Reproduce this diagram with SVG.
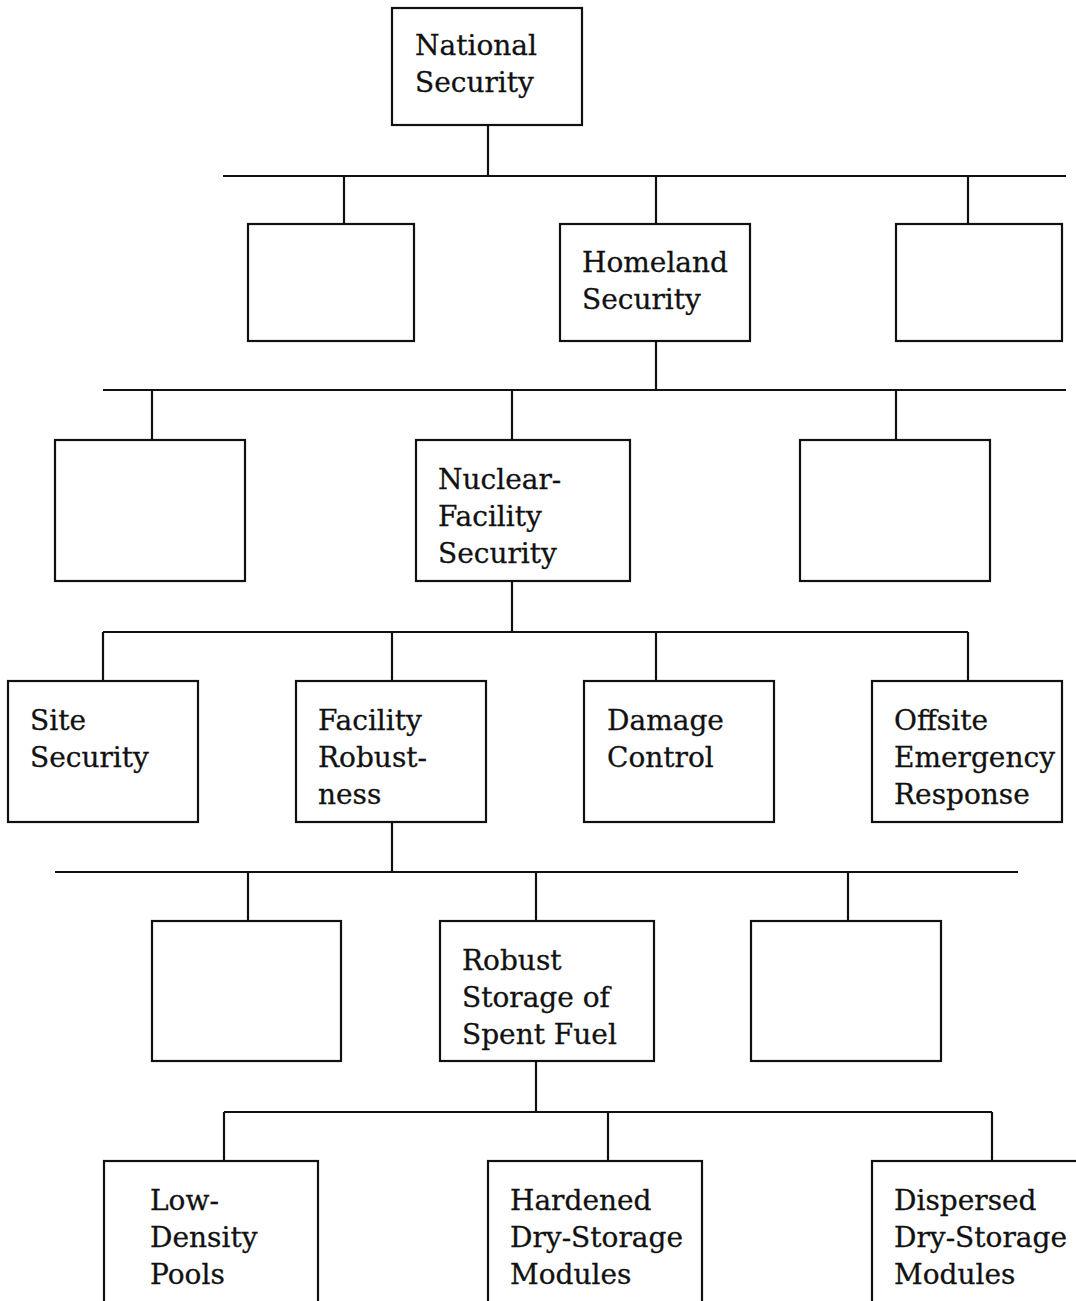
<svg xmlns="http://www.w3.org/2000/svg" width="1076" height="1301" viewBox="0 0 1076 1301">
<style>
.box{fill:#fff;stroke:#111;stroke-width:2.2}
.ln{fill:none;stroke:#111;stroke-width:2.2}
text{font-family:"DejaVu Serif","Liberation Serif",serif;font-size:28px;fill:#111;stroke:#111;stroke-width:0.3}
</style>
<rect width="1076" height="1301" fill="#fff"/>
<g id="connectors" class="ln">
<path d="M488 125V176M223 176H1066M344 176V224M656 176V224M968 176V224"/>
<path d="M656 341V390M103 390H1066M152 390V440M512 390V440M896 390V440"/>
<path d="M512 581V632M103 632H968M103 632V681M392 632V681M656 632V681M968 632V681"/>
<path d="M392 822V872M55 872H1018M248 872V921M536 872V921M848 872V921"/>
<path d="M536 1061V1112M224 1112H992M224 1112V1161M608 1112V1161M992 1112V1161"/>
</g>
<g id="national"><rect class="box" x="392" y="8" width="190" height="117"/><text x="415" y="55">National</text><text x="415" y="92">Security</text></g>
<g id="blank1"><rect class="box" x="248" y="224" width="166" height="117"/></g>
<g id="homeland"><rect class="box" x="560" y="224" width="190" height="117"/><text x="582" y="272">Homeland</text><text x="582" y="309">Security</text></g>
<g id="blank2"><rect class="box" x="896" y="224" width="166" height="117"/></g>
<g id="blank3"><rect class="box" x="55" y="440" width="190" height="141"/></g>
<g id="nuclear"><rect class="box" x="416" y="440" width="214" height="141"/><text x="438" y="489">Nuclear-</text><text x="438" y="526">Facility</text><text x="438" y="563">Security</text></g>
<g id="blank4"><rect class="box" x="800" y="440" width="190" height="141"/></g>
<g id="site"><rect class="box" x="8" y="681" width="190" height="141"/><text x="30" y="730">Site</text><text x="30" y="767">Security</text></g>
<g id="facility"><rect class="box" x="296" y="681" width="190" height="141"/><text x="318" y="730">Facility</text><text x="318" y="767">Robust-</text><text x="318" y="804">ness</text></g>
<g id="damage"><rect class="box" x="584" y="681" width="190" height="141"/><text x="607" y="730">Damage</text><text x="607" y="767">Control</text></g>
<g id="offsite"><rect class="box" x="872" y="681" width="190" height="141"/><text x="894" y="730">Offsite</text><text x="894" y="767">Emergency</text><text x="894" y="804">Response</text></g>
<g id="blank5"><rect class="box" x="152" y="921" width="189" height="140"/></g>
<g id="robust"><rect class="box" x="440" y="921" width="214" height="140"/><text x="462" y="970">Robust</text><text x="462" y="1007">Storage of</text><text x="462" y="1044">Spent Fuel</text></g>
<g id="blank6"><rect class="box" x="751" y="921" width="190" height="140"/></g>
<g id="lowdensity"><rect class="box" x="104" y="1161" width="214" height="150"/><text x="150" y="1210">Low-</text><text x="150" y="1247">Density</text><text x="150" y="1284">Pools</text></g>
<g id="hardened"><rect class="box" x="488" y="1161" width="214" height="150"/><text x="510" y="1210">Hardened</text><text x="510" y="1247">Dry-Storage</text><text x="510" y="1284">Modules</text></g>
<g id="dispersed"><rect class="box" x="872" y="1161" width="214" height="150"/><text x="894" y="1210">Dispersed</text><text x="894" y="1247">Dry-Storage</text><text x="894" y="1284">Modules</text></g>
</svg>
